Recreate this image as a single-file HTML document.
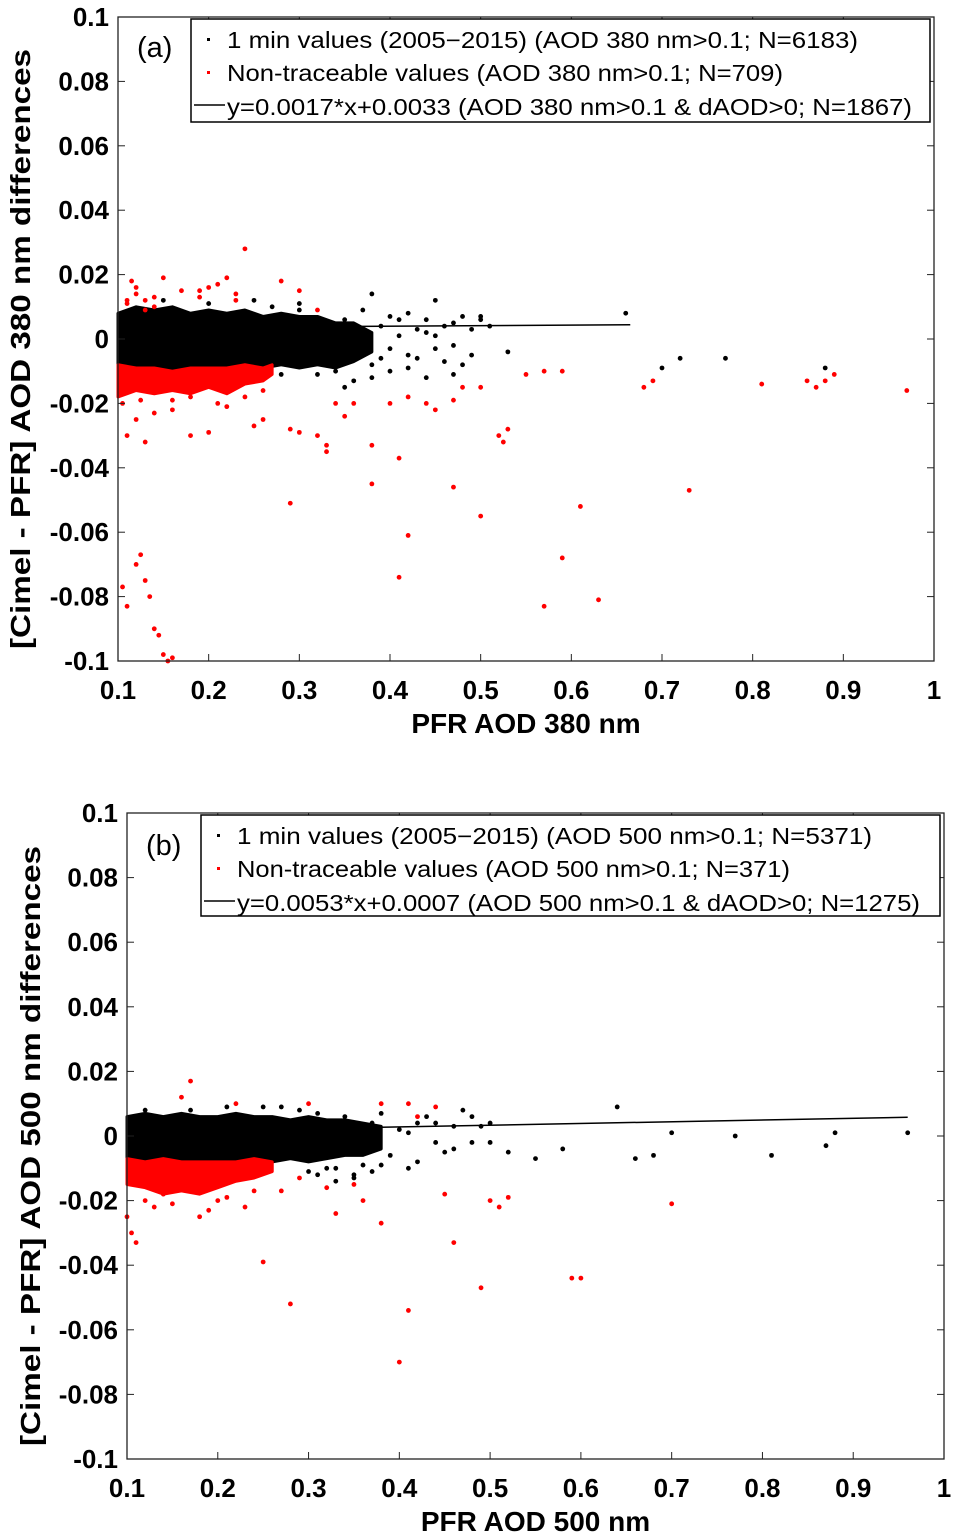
<!DOCTYPE html>
<html><head><meta charset="utf-8"><style>
html,body{margin:0;padding:0;background:#fff}
svg{display:block;font-family:"Liberation Sans",sans-serif}
.tk{font-weight:bold;font-size:26px}
.ttl{font-weight:bold;font-size:28px}
.lg{font-size:23px}
</style></head><body>
<svg id="chart" width="954" height="1540" viewBox="0 0 954 1540"></svg>
<script>
// ---------- data ----------
const xTicks=[0.1,0.2,0.3,0.4,0.5,0.6,0.7,0.8,0.9,1];
const xTickLabels=["0.1","0.2","0.3","0.4","0.5","0.6","0.7","0.8","0.9","1"];
const yTicks=[0.1,0.08,0.06,0.04,0.02,0,-0.02,-0.04,-0.06,-0.08,-0.1];
const yTickLabels=["0.1","0.08","0.06","0.04","0.02","0","-0.02","-0.04","-0.06","-0.08","-0.1"];
// panel a dense bands
const aBlackBandX=[0.1,0.12,0.14,0.16,0.18,0.2,0.22,0.24,0.26,0.28,0.3,0.32,0.34,0.36,0.38];
const aBlackBandTop=[0.008,0.01,0.009,0.01,0.008,0.009,0.008,0.009,0.007,0.008,0.007,0.007,0.005,0.005,0.002];
const aBlackBandBot=[-0.008,-0.009,-0.009,-0.01,-0.009,-0.009,-0.009,-0.008,-0.009,-0.008,-0.009,-0.008,-0.009,-0.007,-0.004];
const aRedBandX=[0.1,0.12,0.14,0.16,0.18,0.2,0.22,0.24,0.26,0.27];
const aRedBandTop=[-0.008,-0.009,-0.009,-0.01,-0.009,-0.009,-0.009,-0.008,-0.009,-0.008];
const aRedBandBot=[-0.018,-0.016,-0.017,-0.016,-0.017,-0.015,-0.017,-0.014,-0.013,-0.011];
const aBlackX=[0.33,0.34,0.35,0.36,0.37,0.38,0.39,0.4,0.41,0.42,0.43,0.44,0.45,0.46,0.47,0.48,0.49,0.5,0.38,0.4,0.42,0.44,0.46,0.48,0.35,0.37,0.39,0.41,0.43,0.45,0.47,0.5,0.53,0.66,0.7,0.72,0.77,0.88,0.27,0.3,0.38,0.45,0.36,0.34,0.42,0.49,0.51,0.15,0.2,0.25,0.3,0.32,0.28,0.22,0.4,0.44,0.47];
const aBlackY=[0.004,-0.01,0.006,-0.004,0.002,0.014,0.004,-0.003,0.006,0.008,-0.006,0.002,0.012,0.004,-0.002,0.007,0.003,0.007,-0.008,-0.01,-0.005,-0.012,-0.007,-0.008,-0.015,0.009,-0.006,0.001,0.003,-0.003,0.005,0.006,-0.004,0.008,-0.009,-0.006,-0.006,-0.009,0.01,0.009,-0.012,0.001,-0.013,0.003,-0.009,-0.005,0.004,0.012,0.011,0.012,0.011,-0.011,-0.011,-0.012,0.007,0.006,-0.011];
const aRedX=[0.105,0.11,0.12,0.125,0.13,0.135,0.14,0.145,0.15,0.155,0.16,0.11,0.13,0.12,0.115,0.12,0.13,0.15,0.17,0.2,0.21,0.22,0.24,0.23,0.28,0.3,0.32,0.2,0.18,0.25,0.26,0.29,0.3,0.32,0.33,0.34,0.36,0.38,0.4,0.41,0.42,0.44,0.45,0.47,0.48,0.5,0.52,0.53,0.525,0.55,0.57,0.59,0.68,0.69,0.81,0.86,0.87,0.88,0.89,0.97,0.73,0.61,0.59,0.57,0.63,0.41,0.42,0.5,0.47,0.29,0.38,0.33,0.35,0.14,0.16,0.22,0.11,0.12,0.14,0.19,0.13,0.105,0.125,0.16,0.18,0.21,0.24,0.26,0.11,0.14,0.19,0.23];
const aRedY=[-0.077,-0.083,-0.07,-0.067,-0.075,-0.08,-0.09,-0.092,-0.098,-0.1,-0.099,-0.03,-0.032,-0.025,0.018,0.014,0.012,0.019,0.015,0.016,0.017,0.019,0.028,0.014,0.018,0.015,0.009,-0.029,-0.03,-0.027,-0.025,-0.028,-0.029,-0.03,-0.033,-0.02,-0.02,-0.033,-0.02,-0.037,-0.018,-0.02,-0.022,-0.019,-0.015,-0.015,-0.03,-0.028,-0.032,-0.011,-0.01,-0.01,-0.015,-0.013,-0.014,-0.013,-0.015,-0.013,-0.011,-0.016,-0.047,-0.052,-0.068,-0.083,-0.081,-0.074,-0.061,-0.055,-0.046,-0.051,-0.045,-0.035,-0.024,-0.023,-0.022,-0.021,0.012,0.016,0.01,0.015,0.009,-0.02,-0.019,-0.019,-0.018,-0.02,-0.018,-0.016,0.011,0.013,0.013,0.012];
// panel b dense bands
const bBlackBandX=[0.1,0.12,0.14,0.16,0.18,0.2,0.22,0.24,0.26,0.28,0.3,0.32,0.34,0.36,0.38];
const bBlackBandTop=[0.006,0.007,0.006,0.007,0.006,0.006,0.007,0.006,0.006,0.005,0.006,0.005,0.005,0.004,0.003];
const bBlackBandBot=[-0.008,-0.008,-0.007,-0.008,-0.008,-0.008,-0.008,-0.007,-0.008,-0.007,-0.008,-0.007,-0.006,-0.006,-0.004];
const bRedBandX=[0.1,0.12,0.14,0.16,0.18,0.2,0.22,0.24,0.26];
const bRedBandTop=[-0.007,-0.008,-0.007,-0.008,-0.008,-0.008,-0.008,-0.007,-0.008];
const bRedBandBot=[-0.015,-0.016,-0.018,-0.017,-0.018,-0.016,-0.014,-0.013,-0.011];
const bBlackX=[0.64,0.7,0.77,0.81,0.88,0.87,0.96,0.66,0.68,0.58,0.55,0.52,0.5,0.46,0.48,0.42,0.45,0.38,0.4,0.43,0.44,0.47,0.49,0.36,0.37,0.39,0.41,0.35,0.33,0.34,0.32,0.3,0.31,0.42,0.44,0.46,0.48,0.5,0.27,0.25,0.12,0.17,0.21,0.29,0.33,0.38,0.41,0.35,0.31,0.37];
const bBlackY=[0.009,0.001,0,-0.006,0.001,-0.003,0.001,-0.007,-0.006,-0.004,-0.007,-0.005,-0.002,0.003,-0.002,0.004,-0.005,0.007,0.002,0.006,-0.002,0.008,0.003,-0.009,0.004,-0.006,0.001,-0.012,-0.014,0.006,-0.01,-0.011,0.007,-0.008,0.004,-0.004,0.006,0.004,0.009,0.009,0.008,0.008,0.009,0.008,-0.01,-0.009,-0.01,-0.013,-0.012,-0.011];
const bRedX=[0.1,0.105,0.11,0.16,0.17,0.16,0.25,0.28,0.33,0.36,0.38,0.41,0.4,0.45,0.46,0.49,0.5,0.51,0.52,0.6,0.59,0.7,0.22,0.3,0.38,0.41,0.44,0.42,0.35,0.29,0.23,0.2,0.14,0.12,0.18,0.27,0.32,0.13,0.15,0.19,0.21,0.24];
const bRedY=[-0.025,-0.03,-0.033,-0.012,0.017,0.012,-0.039,-0.052,-0.024,-0.02,-0.027,-0.054,-0.07,-0.018,-0.033,-0.047,-0.02,-0.022,-0.019,-0.044,-0.044,-0.021,0.01,0.01,0.01,0.01,0.009,0.006,-0.015,-0.013,-0.022,-0.02,-0.018,-0.02,-0.025,-0.017,-0.016,-0.022,-0.021,-0.023,-0.019,-0.017];
const aFit=[0.0017,0.0033], aFitRange=[0.1,0.665];
const bFit=[0.0053,0.0007], bFitRange=[0.1,0.96];

// ---------- drawing ----------
const NS="http://www.w3.org/2000/svg";
const svg=document.getElementById('chart');
function mk(tag,attrs,parent){const e=document.createElementNS(NS,tag);for(const k in attrs)e.setAttribute(k,attrs[k]);(parent||svg).appendChild(e);return e;}

function panel(P){
  const g=mk('g',{});
  
  
  const X=v=>P.x0+(v-0.1)/0.9*(P.x1-P.x0);
  const Y=v=>P.y0+(0.1-v)/0.2*(P.y1-P.y0);
  function band(bx,bt,bb,col,nm){
    let pts=bx.map((x,i)=>X(x)+','+Y(bt[i]));
    for(let i=bx.length-1;i>=0;i--)pts.push(X(bx[i])+','+Y(bb[i]));
    const p=mk('polygon',{points:pts.join(' '),fill:col,stroke:col,'stroke-width':3,'stroke-linejoin':'round'},g);
    
    
  }
  function pts(xs,ys,col,nm){
    xs.forEach((x,i)=>{const c=mk('circle',{cx:X(x),cy:Y(ys[i]),r:2.4,fill:col},g);
      
      });
  }
  band(P.bbx,P.bbt,P.bbb,'#000','dense-1min-cloud');
  pts(P.bx,P.by,'#000','point-1min');
  band(P.rbx,P.rbt,P.rbb,'#f00','dense-nontraceable-cloud');
  pts(P.rx,P.ry,'#f00','point-nontraceable');
  const fl=mk('line',{x1:X(P.fr[0]),y1:Y(P.fit[0]*P.fr[0]+P.fit[1]),x2:X(P.fr[1]),y2:Y(P.fit[0]*P.fr[1]+P.fit[1]),stroke:'#000','stroke-width':1.5},g);
  
  
  const bx=mk('rect',{x:P.x0,y:P.y0,width:P.x1-P.x0,height:P.y1-P.y0,fill:'none',stroke:'#222','stroke-width':1.3},g);
  
  
  xTicks.forEach((v,i)=>{
    mk('line',{x1:X(v),x2:X(v),y1:P.y1,y2:P.y1-7,stroke:'#222'},g);
    mk('line',{x1:X(v),x2:X(v),y1:P.y0,y2:P.y0+7,stroke:'#222'},g);
    const t=mk('text',{x:X(v),y:P.y1+38,'text-anchor':'middle',class:'tk'},g);
    t.textContent=xTickLabels[i];
    
    
  });
  yTicks.forEach((v,i)=>{
    mk('line',{x1:P.x0,x2:P.x0+7,y1:Y(v),y2:Y(v),stroke:'#222'},g);
    mk('line',{x1:P.x1,x2:P.x1-7,y1:Y(v),y2:Y(v),stroke:'#222'},g);
    const t=mk('text',{x:P.x0-9,y:Y(v)+9,'text-anchor':'end',class:'tk'},g);
    t.textContent=yTickLabels[i];
    
    
  });
  const xt=mk('text',{x:(P.x0+P.x1)/2,y:P.y1+72,'text-anchor':'middle',class:'ttl'},g);
  xt.textContent=P.xtitle;
  
  
  const yt=mk('text',{x:0,y:0,'text-anchor':'middle',class:'ttl',transform:`translate(${P.ytx},${(P.y0+P.y1)/2+10}) rotate(-90)`,textLength:600,lengthAdjust:'spacingAndGlyphs'},g);
  yt.textContent=P.ytitle;
  
  
  const pl=mk('text',{x:P.lab[0],y:P.lab[1],'font-size':'29'},g);
  pl.textContent=P.label;
  
  
  const L=P.leg;
  const lg=mk('g',{},g);
  
  
  mk('rect',{x:L.x,y:L.y,width:L.w,height:L.h,fill:'#fff',stroke:'#000','stroke-width':1.5},lg);
  mk('rect',{x:L.x+16,y:L.ty[0]-10,width:3,height:3,fill:'#000'},lg);
  mk('rect',{x:L.x+16,y:L.ty[1]-10,width:3,height:3,fill:'#f00'},lg);
  mk('line',{x1:L.x+3,x2:L.x+34,y1:L.ty[2]-10,y2:L.ty[2]-10,stroke:'#000','stroke-width':1.5},lg);
  L.texts.forEach((s,i)=>{
    const t=mk('text',{x:L.x+36,y:L.ty[i],class:'lg',textLength:L.tl[i],lengthAdjust:'spacingAndGlyphs'},lg);
    t.textContent=s;
    
    
  });
}

panel({name:'panel-a',x0:118,x1:934,y0:17,y1:661,
  bbx:aBlackBandX,bbt:aBlackBandTop,bbb:aBlackBandBot,rbx:aRedBandX,rbt:aRedBandTop,rbb:aRedBandBot,
  bx:aBlackX,by:aBlackY,rx:aRedX,ry:aRedY,fit:aFit,fr:aFitRange,
  xtitle:'PFR AOD 380 nm',ytitle:'[Cimel - PFR]  AOD 380 nm differences',ytx:30,label:'(a)',lab:[137,57],
  leg:{x:191,y:19,w:739,h:103,ty:[48,81,115],tl:[631,556,685],
    texts:['1 min values (2005\u22122015) (AOD 380 nm>0.1; N=6183)','Non-traceable values (AOD 380 nm>0.1; N=709)','y=0.0017*x+0.0033 (AOD 380 nm>0.1 & dAOD>0; N=1867)']}});
panel({name:'panel-b',x0:127,x1:944,y0:813,y1:1459,
  bbx:bBlackBandX,bbt:bBlackBandTop,bbb:bBlackBandBot,rbx:bRedBandX,rbt:bRedBandTop,rbb:bRedBandBot,
  bx:bBlackX,by:bBlackY,rx:bRedX,ry:bRedY,fit:bFit,fr:bFitRange,
  xtitle:'PFR AOD 500 nm',ytitle:'[Cimel - PFR]  AOD 500 nm differences',ytx:40,label:'(b)',lab:[146,855],
  leg:{x:201,y:815,w:739,h:101,ty:[844,877,911],tl:[635,553,683],
    texts:['1 min values (2005\u22122015) (AOD 500 nm>0.1; N=5371)','Non-traceable values (AOD 500 nm>0.1; N=371)','y=0.0053*x+0.0007 (AOD 500 nm>0.1 & dAOD>0; N=1275)']}});
</script>
</body></html>
